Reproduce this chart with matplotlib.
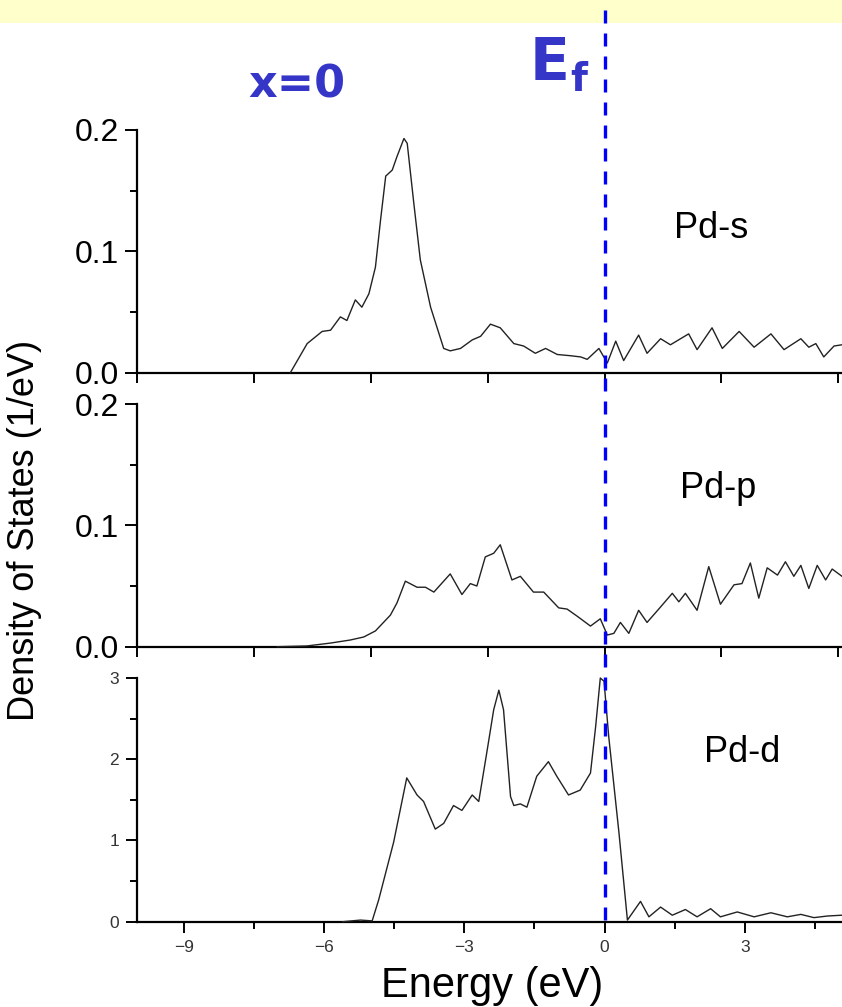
import matplotlib
matplotlib.use("Agg")
import matplotlib.pyplot as plt
from matplotlib.lines import Line2D
from matplotlib.patches import Rectangle
from matplotlib.ticker import MultipleLocator, NullFormatter

plt.rcParams['font.family'] = ['Liberation Sans', 'DejaVu Sans']

# Pd-s projected DOS
s_e = [-6.72, -6.36, -6.04, -5.86, -5.65, -5.51, -5.33, -5.19, -5.04, -4.90,
       -4.79, -4.68, -4.54, -4.44, -4.29, -4.22, -4.08, -3.94, -3.72, -3.44,
       -3.30, -3.08, -2.83, -2.65, -2.44, -2.23, -1.94, -1.73, -1.48, -1.26,
       -1.01, -0.73, -0.51, -0.37, -0.12, 0.06, 0.24, 0.41, 0.73, 0.91,
       1.20, 1.41, 1.80, 1.98, 2.30, 2.52, 2.88, 3.20, 3.56, 3.84,
       4.20, 4.37, 4.52, 4.69, 4.91, 5.08]
s_dos = [0.000, 0.024, 0.034, 0.035, 0.046, 0.043, 0.060, 0.054, 0.065, 0.087,
         0.126, 0.162, 0.167, 0.178, 0.193, 0.189, 0.140, 0.093, 0.054, 0.020,
         0.018, 0.020, 0.027, 0.030, 0.040, 0.037, 0.024, 0.022, 0.016, 0.020,
         0.015, 0.014, 0.013, 0.011, 0.020, 0.008, 0.026, 0.010, 0.031, 0.016,
         0.028, 0.023, 0.032, 0.019, 0.037, 0.020, 0.034, 0.021, 0.032, 0.019,
         0.028, 0.021, 0.024, 0.013, 0.022, 0.023]

# Pd-p projected DOS
p_e = [-7.00, -6.37, -5.86, -5.44, -5.15, -4.90, -4.58, -4.44, -4.26, -4.01,
       -3.83, -3.65, -3.30, -3.05, -2.87, -2.73, -2.55, -2.37, -2.23, -1.98,
       -1.80, -1.52, -1.30, -0.98, -0.80, -0.58, -0.30, -0.09, 0.06, 0.20,
       0.34, 0.52, 0.73, 0.91, 1.16, 1.45, 1.59, 1.73, 1.98, 2.23,
       2.48, 2.77, 2.94, 3.12, 3.30, 3.48, 3.70, 3.87, 4.05, 4.20,
       4.37, 4.55, 4.73, 4.87, 5.08]
p_dos = [0.0, 0.0006, 0.003, 0.0055, 0.008, 0.013, 0.026, 0.036, 0.054, 0.049,
         0.049, 0.045, 0.060, 0.043, 0.052, 0.050, 0.074, 0.077, 0.084, 0.055,
         0.058, 0.045, 0.045, 0.032, 0.031, 0.025, 0.017, 0.023, 0.0096, 0.011,
         0.020, 0.011, 0.030, 0.020, 0.031, 0.044, 0.037, 0.044, 0.030, 0.066,
         0.035, 0.051, 0.052, 0.069, 0.040, 0.065, 0.059, 0.070, 0.058, 0.067,
         0.048, 0.067, 0.055, 0.064, 0.058]

# Pd-d projected DOS
d_e = [-5.60, -5.22, -4.97, -4.83, -4.51, -4.23, -4.01, -3.87, -3.62, -3.44,
       -3.23, -3.05, -2.83, -2.69, -2.51, -2.37, -2.26, -2.16, -2.01, -1.94,
       -1.80, -1.66, -1.45, -1.20, -1.02, -0.77, -0.52, -0.30, -0.19, -0.09,
       -0.01, 0.09, 0.31, 0.49, 0.77, 0.95, 1.20, 1.45, 1.73, 1.98,
       2.27, 2.48, 2.84, 3.20, 3.56, 3.91, 4.20, 4.48, 4.77, 5.08]
d_dos = [0.0, 0.02, 0.01, 0.27, 0.98, 1.77, 1.56, 1.48, 1.14, 1.21,
         1.43, 1.37, 1.56, 1.48, 2.11, 2.61, 2.85, 2.61, 1.54, 1.43,
         1.45, 1.41, 1.79, 1.97, 1.79, 1.56, 1.62, 1.83, 2.40, 3.00,
         2.96, 2.28, 1.09, 0.02, 0.25, 0.06, 0.18, 0.08, 0.15, 0.06,
         0.16, 0.06, 0.12, 0.06, 0.11, 0.06, 0.09, 0.05, 0.07, 0.08]

labels = ['Pd-s', 'Pd-p', 'Pd-d']

W, H = 842, 1007
fig = plt.figure(figsize=(W / 100, H / 100), dpi=100)

# pale yellow strip along the top edge
fig.patches.append(Rectangle((0, 1 - 23 / H), 1, 23 / H, transform=fig.transFigure,
                             facecolor='#ffffcc', edgecolor='none', zorder=0))

left = 137 / W
width = 1 - left


def panel(top, bottom):
    return fig.add_axes([left, 1 - bottom / H, width, (bottom - top) / H])


ax1 = panel(130, 372.7)
ax2 = panel(404, 646.7)
ax3 = panel(678, 921.7)

# (axes, energies, dos, label x, label baseline y, y max)
panels = [(ax1, s_e, s_dos, 2.27, 0.111, 0.2),
          (ax2, p_e, p_dos, 2.44, 0.1225, 0.2),
          (ax3, d_e, d_dos, 2.95, 1.97, 3.0)]

for (ax, e, dos, lx, ly, ymax), name in zip(panels, labels):
    ax.plot(e, dos, color='#222222', lw=1.0, clip_on=False, zorder=3,
            solid_joinstyle='round')
    ax.set_xlim(-10, 5.08)
    ax.set_ylim(0, ymax)
    ax.patch.set_alpha(0)
    for side in ['top', 'right']:
        ax.spines[side].set_visible(False)
    for side in ['left', 'bottom']:
        ax.spines[side].set_linewidth(1.6)
    ax.text(lx, ly, name, ha='center', va='baseline', fontsize=26)

for ax in [ax1, ax2]:
    ax.yaxis.set_major_locator(MultipleLocator(0.1))
    ax.yaxis.set_minor_locator(MultipleLocator(0.05))
    ax.yaxis.set_major_formatter(matplotlib.ticker.FormatStrFormatter('%.1f'))
    ax.xaxis.set_major_locator(MultipleLocator(2.5))
    ax.xaxis.set_major_formatter(NullFormatter())
    ax.tick_params(axis='y', which='major', length=9, width=1.4, labelsize=23, pad=4)
    ax.tick_params(axis='y', which='minor', length=5, width=1.4)
    ax.tick_params(axis='x', which='major', length=7, width=1.4)

ax3.yaxis.set_major_locator(MultipleLocator(1))
ax3.yaxis.set_minor_locator(MultipleLocator(0.5))
ax3.xaxis.set_minor_locator(MultipleLocator(1.5))
ax3.set_xticks([-9, -6, -3, 0, 3])
ax3.tick_params(which='major', length=8, width=1.4, labelsize=12.5, pad=5,
                labelcolor='#333333')
ax3.tick_params(which='minor', length=5, width=1.4)

fig.text(25 / W, 1 - 530 / H, 'Density of States (1/eV)', rotation=90,
         ha='center', va='center', fontsize=26)
fig.text(492 / W, 1 - 997 / H, 'Energy (eV)', ha='center', va='baseline', fontsize=30)

# Fermi level marker across all three panels
fig.lines.append(Line2D([605 / W, 605 / W], [1 - 10 / H, 1 - 921 / H],
                        transform=fig.transFigure, color='#0000ff', lw=2.4,
                        dashes=(3.9, 3.0), zorder=10))

blue = '#3535c8'
fig.text(297 / W, 1 - 97 / H, 'x=0', ha='center', va='baseline', fontsize=32,
         fontweight='bold', color=blue, family='DejaVu Sans')
fig.text(550 / W, 1 - 80 / H, 'E', ha='center', va='baseline', fontsize=42,
         fontweight='bold', color=blue, family='DejaVu Sans')
fig.text(579 / W, 1 - 91 / H, 'f', ha='center', va='baseline', fontsize=28,
         fontweight='bold', color=blue, family='DejaVu Sans')

fig.savefig('out.png', dpi=100)
